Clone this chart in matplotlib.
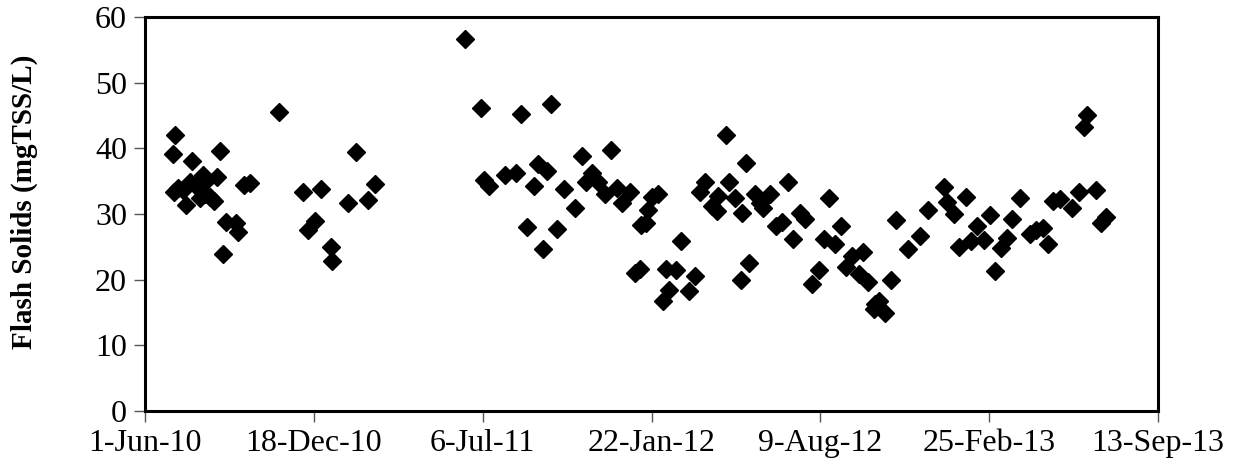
import datetime as dt
import matplotlib
matplotlib.use("Agg")
import matplotlib.pyplot as plt

# Days since 1-Jun-2010 for each sample, and flash solids values (mgTSS/L)
start_date = "2010-06-01"
day_offsets = [33, 34, 35, 39, 45, 49, 53, 56, 59, 65, 69, 71, 73, 77, 82, 85, 89, 92, 96,
               108, 110, 117, 124, 159, 187, 193, 201, 209, 220, 222, 240, 250, 264, 272,
               379, 398, 401, 408, 426, 440, 446, 453, 461, 466, 471, 476, 481, 488, 496,
               509, 518, 523, 530, 537, 545, 552, 559, 565, 575, 580, 586, 588, 594, 596,
               600, 608, 614, 617, 621, 629, 635, 644, 652, 657, 663, 672, 677, 679, 688,
               692, 699, 706, 707, 712, 716, 723, 729, 732, 740, 748, 754, 762, 768, 776,
               782, 790, 798, 804, 810, 817, 825, 830, 838, 846, 850, 857, 863, 865, 869,
               877, 884, 890, 904, 918, 927, 947, 950, 958, 964, 973, 979, 986, 994, 1001,
               1007, 1014, 1021, 1027, 1036, 1048, 1055, 1064, 1070, 1076, 1084, 1098,
               1106, 1112, 1116, 1127, 1132, 1138]
flash_solids = [39.2, 33.4, 42.0, 33.9, 33.7, 31.4, 34.8, 38.1, 34.4, 32.4, 35.9, 33.1, 35.2,
                32.6, 32.0, 35.7, 39.6, 23.9, 28.8, 28.7, 27.2, 34.4, 34.7, 45.6, 33.3, 27.5,
                29.0, 33.8, 25.0, 22.8, 31.7, 39.5, 32.1, 34.5,
                56.6, 46.2, 35.2, 34.3, 35.9, 36.3, 45.3, 28.0, 34.3, 37.6, 24.6, 36.5,
                46.7, 27.7, 33.8, 30.9, 38.9, 34.8, 36.2, 34.9, 33.1, 39.7, 33.9, 31.7,
                33.3, 21.0, 21.7, 28.4, 28.7, 30.6, 32.6, 33.0, 16.8, 21.6, 18.5, 21.5,
                25.9, 18.3, 20.6, 33.3, 34.9, 31.2, 30.5, 32.7, 42.0, 34.9, 32.4, 19.9,
                30.2, 37.8, 22.6, 33.1, 31.6, 30.9, 33.1, 28.2, 28.8, 34.8, 26.2, 30.2,
                29.3, 19.3, 21.4, 26.2, 32.4, 25.5, 28.2, 22.0, 23.6, 20.8, 24.2, 19.7,
                15.6, 16.3, 16.7, 15.0, 19.9, 29.1, 24.6, 26.6, 30.6, 34.1, 31.8, 30.0,
                24.9, 32.6, 25.9, 28.2, 26.1, 29.9, 21.3, 24.8, 26.3, 29.3, 32.4, 27.0,
                27.6, 27.8, 25.4, 32.0, 32.3, 30.9, 33.4, 43.3, 45.1, 33.6, 28.6, 29.6]
x_tick_labels = ["1-Jun-10", "18-Dec-10", "6-Jul-11", "22-Jan-12", "9-Aug-12", "25-Feb-13", "13-Sep-13"]
y_label = "Flash Solids (mgTSS/L)"

plt.rcParams["font.family"] = ["Liberation Serif", "DejaVu Serif"]

base = dt.datetime.strptime(start_date, "%Y-%m-%d")
dates = [base + dt.timedelta(days=d) for d in day_offsets]
tick_dates = [dt.datetime.strptime(s, "%d-%b-%y") for s in x_tick_labels]

fig = plt.figure(figsize=(12.36, 4.71), dpi=100)
ax = fig.add_axes([145 / 1236, 60 / 471, 1013 / 1236, 394 / 471])

ax.plot(dates, flash_solids, linestyle="none", marker="D", markersize=9.5,
        color="black", markeredgecolor="black")

ax.set_xlim(tick_dates[0], tick_dates[-1])
ax.set_ylim(0, 60)
ax.set_xticks(tick_dates)
ax.set_xticklabels(x_tick_labels)
ax.set_yticks(range(0, 61, 10))

for s in ax.spines.values():
    s.set_linewidth(2.2)
    s.set_color("black")

ax.tick_params(axis="both", direction="out", length=8, width=1, color="#555555",
               labelsize=23)
ax.tick_params(axis="y", pad=5)
ax.tick_params(axis="x", pad=5)
ax.set_ylabel(y_label, fontsize=21, fontweight="bold")
ax.yaxis.set_label_coords(-0.106, 0.53)

fig.savefig("out.png", dpi=100)
